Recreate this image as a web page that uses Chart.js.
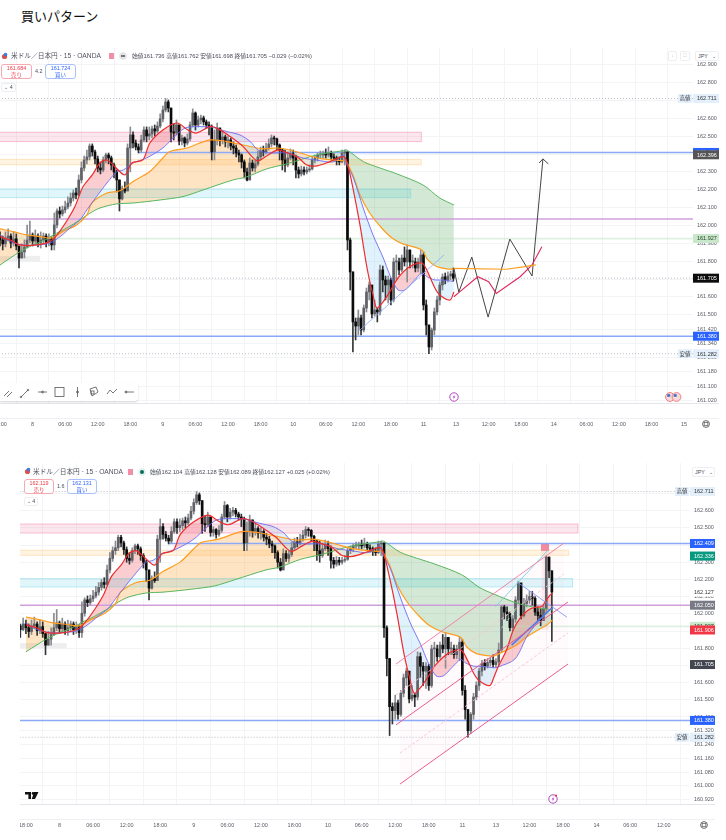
<!DOCTYPE html>
<html>
<head>
<meta charset="utf-8">
<title>買いパターン</title>
<script src="https://cdn.jsdelivr.net/npm/chart.js@4"></script>
<style>
  html, body { margin: 0; padding: 0; background: #fff; }
  body { position: relative; width: 726px; height: 840px; overflow: hidden; font-family: "Liberation Sans", "Noto Sans CJK JP", sans-serif; color: #4a4e59; }
  canvas { position: absolute; }
  .t { position: absolute; white-space: nowrap; font-size: 5.8px; line-height: 8px; z-index: 2; }
  .head { font-size: 6.7px; color: #50535e; }
  .pill { position: absolute; box-sizing: border-box; border: 1px solid; border-radius: 3px; height: 15px; text-align: center; font-size: 5.4px; line-height: 6.5px; background: #fff; z-index: 2; }
  .sell { border-color: #f7a9b1; color: #f23645; }
  .buy { border-color: #a9c0fb; color: #2962ff; }
  .tiny { position: absolute; box-sizing: border-box; border: 1px solid #eceef2; border-radius: 2px; background: #fff; font-size: 5.4px; line-height: 7px; text-align: center; z-index: 2; }
  svg { position: absolute; z-index: 2; overflow: visible; }
  #tools { position: absolute; left: 0; top: 383px; width: 138px; height: 18px; background: #fff; border-radius: 0 3px 3px 0; box-shadow: 0 1px 2px rgba(0,0,0,.18); z-index: 2; }
</style>
</head>
<body>

<div class="t" style="left:21px;top:9px;font-size:13px;line-height:16px;color:#111;">買いパターン</div>

<!-- upper chart header -->
<svg style="left:1px;top:52px" width="8" height="8"><circle cx="3.5" cy="4.5" r="2.6" fill="#d9534f"/><circle cx="4.5" cy="2.6" r="1.8" fill="#3b7dd8"/></svg>
<div class="t head" style="left:11px;top:52px">米ドル／日本円 · 15 · OANDA</div>
<svg style="left:109px;top:53px" width="6" height="6"><rect width="5" height="6" fill="#f08fa8"/></svg>
<svg style="left:119px;top:52px" width="8" height="8"><circle cx="4" cy="4" r="3.8" fill="#e3e4e8"/><rect x="2" y="3.4" width="4" height="1.2" fill="#333"/></svg>
<div class="t" style="left:132px;top:52px">始値161.736 高値161.762 安値161.698 終値161.705 −0.029 (−0.02%)</div>
<div class="pill sell" style="left:1px;top:64px;width:31px">161.684<br>売り</div>
<div class="t" style="left:35px;top:67px;font-size:5.4px">4.2</div>
<div class="pill buy" style="left:45px;top:64px;width:31px">161.724<br>買い</div>
<div class="tiny" style="left:1px;top:83px;width:15px;height:9px">⌄ 4</div>
<div class="tiny" style="left:668px;top:51px;width:9px;height:10px;color:#bbb">↓</div>
<div class="tiny" style="left:680px;top:51px;width:10px;height:10px;color:#bbb">□</div>
<div class="tiny" style="left:695px;top:51px;width:24px;height:10px;text-align:left;padding-left:2px;line-height:8px">JPY <span style="margin-left:3px">⌄</span></div>

<!-- drawing tools of the upper chart -->
<div id="tools">
  <svg width="138" height="18" fill="none" stroke="#555" stroke-width=".8">
    <path d="M4 13 L9 8 M7 14 L12 9"/>
    <path d="M21 14 L28 7"/><circle cx="21" cy="14" r=".8"/><circle cx="28" cy="7" r=".8"/>
    <path d="M38 9 L47 9"/><circle cx="42.5" cy="9" r="1"/>
    <rect x="55" y="4.5" width="9" height="9"/>
    <path d="M77.5 4 L77.5 14"/><circle cx="77.5" cy="9" r="1"/>
    <path d="M90 6 L96 4 L98 9 L92 13 Z"/><rect x="91" y="8" width="3" height="3"/>
    <path d="M107 11 L110 7 L113 10 L117 6"/>
    <path d="M125 9 L134 9"/><circle cx="126" cy="9" r="1"/>
  </svg>
</div>

<!-- event markers -->
<svg style="left:449px;top:392px" width="10" height="10"><circle cx="5" cy="5" r="4.2" fill="#fff" stroke="#ab47bc" stroke-width="1"/><path d="M5.6 2.6 L3.6 5.4 L5 5.4 L4.4 7.4 L6.4 4.6 L5 4.6 Z" fill="#ab47bc"/></svg>
<svg style="left:665px;top:392px" width="18" height="10"><circle cx="5" cy="5" r="4.4" fill="#f6dcdc" stroke="#e66" stroke-width=".8"/><rect x="2.2" y="2.2" width="3" height="2.6" fill="#3f6fc4"/><circle cx="11.5" cy="5" r="4.4" fill="#f6dcdc" stroke="#e66" stroke-width=".8"/><rect x="8.7" y="2.2" width="3" height="2.6" fill="#3f6fc4"/></svg>
<svg style="left:701px;top:419px" width="10" height="10"><circle cx="5" cy="5" r="3.4" fill="none" stroke="#555" stroke-width=".9"/><rect x="3.2" y="3.6" width="3.6" height="2.8" fill="none" stroke="#555" stroke-width=".7"/></svg>

<!-- lower chart header -->
<svg style="left:24px;top:467px" width="8" height="8"><circle cx="3.5" cy="4.5" r="2.6" fill="#d9534f"/><circle cx="4.5" cy="2.6" r="1.8" fill="#3b7dd8"/></svg>
<div class="t head" style="left:33px;top:468px">米ドル／日本円 · 15 · OANDA</div>
<svg style="left:128px;top:469px" width="6" height="6"><rect width="5" height="6" fill="#f08fa8"/></svg>
<svg style="left:138px;top:468px" width="8" height="8"><circle cx="4" cy="4" r="3.8" fill="#dff1ec"/><circle cx="4" cy="4" r="2" fill="#0b6e5a"/></svg>
<div class="t" style="left:150px;top:468px">始値162.104 高値162.128 安値162.089 終値162.127 +0.025 (+0.02%)</div>
<div class="pill sell" style="left:24px;top:479px;width:30px">162.119<br>売り</div>
<div class="t" style="left:57px;top:482px;font-size:5.4px">1.6</div>
<div class="pill buy" style="left:67px;top:479px;width:30px">162.131<br>買い</div>
<div class="tiny" style="left:24px;top:497px;width:14px;height:9px">⌄ 4</div>
<div class="tiny" style="left:692px;top:467px;width:23px;height:10px;text-align:left;padding-left:2px;line-height:8px">JPY <span style="margin-left:3px">⌄</span></div>

<svg style="left:25px;top:792px" width="14" height="7"><path d="M0 0 H6 V7 H3.4 V2.4 H0 Z M9 0 H13.5 L10 7 H6.8 Z" fill="#111"/><circle cx="8" cy="1.4" r="1.3" fill="#111"/></svg>
<svg style="left:548px;top:794px" width="11" height="10"><circle cx="5" cy="5" r="4.2" fill="#fff" stroke="#ab47bc" stroke-width="1"/><path d="M5.6 2.6 L3.6 5.4 L5 5.4 L4.4 7.4 L6.4 4.6 L5 4.6 Z" fill="#ab47bc"/><circle cx="8" cy="1.6" r="1.1" fill="#f23645"/></svg>
<svg style="left:699px;top:820px" width="10" height="10"><circle cx="5" cy="5" r="3.4" fill="none" stroke="#555" stroke-width=".9"/><rect x="3.2" y="3.6" width="3.6" height="2.8" fill="none" stroke="#555" stroke-width=".7"/></svg>

<canvas id="upperChart" width="719" height="385" style="left:0;top:48px"></canvas>
<canvas id="lowerChart" width="695" height="372" style="left:20px;top:463px"></canvas>

<script>
// time axis: hours of trading time counted from the "8" label, weekend removed
const timeTicks = [-6, 0, 6, 12, 18, 24, 30, 36, 42, 48, 54, 60, 66, 72, 78, 84, 90, 96, 102, 108, 114, 120];
const timeLabels = ['18:00', '8', '06:00', '12:00', '18:00', '9', '06:00', '12:00', '18:00', '10', '06:00', '12:00', '18:00', '11', '13', '12:00', '18:00', '14', '06:00', '12:00', '18:00', '15'];

const upperPriceTicks = [162.9, 162.8, 162.7, 162.6, 162.5, 162.4, 162.3, 162.2, 162.1, 162.0, 161.9, 161.8, 161.7, 161.6, 161.5, 161.42, 161.34, 161.26, 161.18, 161.1, 161.02];
const lowerPriceTicks = [162.7, 162.6, 162.5, 162.4, 162.3, 162.2, 162.1, 162.0, 161.9, 161.8, 161.7, 161.6, 161.5, 161.4, 161.32, 161.24, 161.16, 161.08, 161.0, 160.92];

// half hour candles, first one at t = -7.5; each opens at the previous close
const candleClose = [
  161.930, 161.908, 161.941, 161.919, 161.897, 161.930, 161.941, 161.902, 161.925, 161.885,
  161.818, 161.852, 161.880, 161.919, 161.947, 161.913, 161.941, 161.902, 161.919, 161.941,
  161.908, 161.925, 161.891, 162.003, 162.081, 162.065, 162.087, 162.104, 162.126, 162.154,
  162.182, 162.171, 162.255, 162.322, 162.367, 162.384, 162.445, 162.412, 162.373, 162.322,
  162.311, 162.367, 162.395, 162.378, 162.339, 162.300, 162.255, 162.149, 162.205, 162.193,
  162.434, 162.507, 162.462, 162.440, 162.423, 162.479, 162.535, 162.501, 162.513, 162.541,
  162.529, 162.557, 162.597, 162.647, 162.692, 162.658, 162.524, 162.518, 162.563, 162.473,
  162.490, 162.462, 162.485, 162.563, 162.630, 162.563, 162.591, 162.602, 162.580, 162.563,
  162.552, 162.412, 162.479, 162.546, 162.479, 162.496, 162.468, 162.479, 162.445, 162.434,
  162.406, 162.395, 162.356, 162.300, 162.255, 162.350, 162.322, 162.345, 162.384, 162.417,
  162.412, 162.434, 162.457, 162.490, 162.485, 162.451, 162.423, 162.367, 162.339, 162.378,
  162.401, 162.378, 162.311, 162.289, 162.311, 162.300, 162.311, 162.317, 162.367, 162.378,
  162.395, 162.395, 162.401, 162.395, 162.406, 162.384, 162.378, 162.361, 162.356, 162.406,
  162.412, 161.919, 161.740, 161.460, 161.437, 161.482, 161.415, 161.538, 161.628, 161.667,
  161.505, 161.527, 161.516, 161.751, 161.695, 161.667, 161.695, 161.583, 161.796, 161.796,
  161.751, 161.818, 161.796, 161.863, 161.796, 161.796, 161.762, 161.796, 161.835, 161.555,
  161.443, 161.320, 161.415, 161.516, 161.583, 161.667, 161.712, 161.695, 161.717, 161.729,
  161.705, 161.720, 161.790, 162.040, 162.010, 162.000, 161.920, 161.970, 162.080, 162.180,
  161.990, 162.060, 162.080, 162.100, 162.090, 162.010, 161.990, 161.960, 162.030, 162.330,
  162.250, 162.127
];
const candleHigh = [
  161.964, 161.941, 161.975, 161.964, 161.941, 161.964, 161.981, 161.953, 161.964, 161.953,
  161.885, 161.897, 161.919, 162.003, 162.025, 161.958, 161.975, 161.953, 161.964, 161.958,
  161.953, 161.953, 161.936, 162.070, 162.093, 162.104, 162.109, 162.137, 162.160, 162.182,
  162.199, 162.210, 162.283, 162.356, 162.389, 162.423, 162.457, 162.457, 162.423, 162.389,
  162.356, 162.384, 162.406, 162.406, 162.389, 162.350, 162.311, 162.255, 162.221, 162.244,
  162.457, 162.552, 162.524, 162.479, 162.457, 162.507, 162.552, 162.552, 162.552, 162.557,
  162.563, 162.580, 162.625, 162.669, 162.711, 162.703, 162.658, 162.569, 162.591, 162.563,
  162.507, 162.496, 162.513, 162.580, 162.653, 162.636, 162.613, 162.619, 162.613, 162.591,
  162.580, 162.563, 162.535, 162.574, 162.546, 162.529, 162.507, 162.501, 162.490, 162.468,
  162.451, 162.423, 162.401, 162.367, 162.322, 162.378, 162.367, 162.367, 162.417, 162.440,
  162.445, 162.462, 162.485, 162.507, 162.501, 162.490, 162.457, 162.429, 162.423, 162.412,
  162.429, 162.423, 162.395, 162.328, 162.333, 162.328, 162.328, 162.339, 162.384, 162.395,
  162.406, 162.417, 162.417, 162.429, 162.440, 162.417, 162.401, 162.389, 162.384, 162.423,
  162.423, 162.412, 161.930, 161.740, 161.482, 161.527, 161.499, 161.555, 161.650, 161.684,
  161.661, 161.583, 161.538, 161.779, 161.773, 161.717, 161.717, 161.706, 161.818, 161.835,
  161.818, 161.835, 161.880, 161.891, 161.863, 161.835, 161.818, 161.818, 161.863, 161.852,
  161.583, 161.443, 161.426, 161.538, 161.605, 161.684, 161.729, 161.734, 161.740, 161.745,
  161.762, 161.740, 161.830, 162.050, 162.050, 162.040, 162.010, 161.990, 162.100, 162.190,
  162.120, 162.090, 162.110, 162.130, 162.130, 162.100, 162.040, 162.030, 162.050, 162.336,
  162.330, 162.250
];
const candleLow = [
  161.885, 161.863, 161.902, 161.885, 161.863, 161.880, 161.913, 161.874, 161.885, 161.863,
  161.762, 161.818, 161.818, 161.874, 161.902, 161.885, 161.891, 161.880, 161.874, 161.897,
  161.880, 161.885, 161.863, 161.863, 161.986, 162.042, 162.053, 162.070, 162.093, 162.109,
  162.137, 162.149, 162.165, 162.238, 162.305, 162.345, 162.367, 162.389, 162.345, 162.300,
  162.289, 162.300, 162.350, 162.345, 162.311, 162.266, 162.188, 162.081, 162.143, 162.182,
  162.227, 162.300, 162.434, 162.423, 162.406, 162.412, 162.468, 162.468, 162.479, 162.490,
  162.501, 162.518, 162.546, 162.580, 162.636, 162.636, 162.468, 162.479, 162.507, 162.451,
  162.451, 162.440, 162.451, 162.473, 162.552, 162.535, 162.552, 162.569, 162.563, 162.546,
  162.507, 162.367, 162.367, 162.451, 162.445, 162.457, 162.440, 162.434, 162.423, 162.401,
  162.384, 162.356, 162.322, 162.266, 162.249, 162.255, 162.305, 162.300, 162.333, 162.367,
  162.389, 162.401, 162.423, 162.440, 162.451, 162.423, 162.367, 162.311, 162.300, 162.328,
  162.367, 162.339, 162.266, 162.266, 162.277, 162.283, 162.289, 162.300, 162.311, 162.350,
  162.361, 162.378, 162.378, 162.378, 162.384, 162.367, 162.361, 162.339, 162.339, 162.350,
  162.339, 161.863, 161.639, 161.292, 161.359, 161.387, 161.387, 161.404, 161.516, 161.583,
  161.482, 161.494, 161.460, 161.499, 161.628, 161.583, 161.566, 161.555, 161.572, 161.695,
  161.723, 161.740, 161.773, 161.684, 161.762, 161.762, 161.740, 161.740, 161.729, 161.527,
  161.387, 161.282, 161.303, 161.387, 161.499, 161.555, 161.639, 161.673, 161.684, 161.695,
  161.690, 161.690, 161.700, 161.780, 161.970, 161.960, 161.900, 161.900, 161.950, 162.060,
  161.970, 161.980, 162.040, 162.060, 162.050, 161.990, 161.960, 161.930, 161.960, 162.000,
  162.210, 161.840
];

// moving averages
const redTimes = [-6, -4.1, -2.3, 0.8, 3.2, 4.5, 6.4, 7.8, 9.3, 11, 12.4, 13.7, 15.2, 17, 18.3, 20.3, 21.6, 24, 26.6, 28.6, 30.2, 32.7, 34.2, 36.4, 38.8, 40.4, 41.5, 43.4, 45.2, 46.8, 48.7, 50.5, 52.4, 54.8, 57.2, 57.9, 59, 60.3, 61.6, 62.7, 63.4, 64.6, 65.8, 67.3, 69.5, 71.7, 72.6, 74.1, 75, 76.9, 77.6, 78.4, 79.9, 81.1, 82.3, 83.8, 85, 86.2, 86.8, 87.7, 88.1];
const redPrices = [161.936, 161.919, 161.891, 161.891, 161.91, 161.947, 162.031, 162.106, 162.218, 162.283, 162.35, 162.367, 162.328, 162.283, 162.35, 162.367, 162.462, 162.535, 162.574, 162.535, 162.518, 162.554, 162.541, 162.498, 162.442, 162.386, 162.362, 162.395, 162.423, 162.408, 162.386, 162.339, 162.334, 162.358, 162.386, 162.356, 162.21, 162.003, 161.762, 161.611, 161.538, 161.574, 161.63, 161.706, 161.77, 161.79, 161.751, 161.65, 161.611, 161.583, 161.628, 161.692, 161.79, 161.906, 161.974, 162.022, 162.038, 162.042, 162.07, 162.11, 162.12];
const blueTimes = [-6, -4.1, -1.7, 0.8, 3.2, 5.1, 6.9, 8.7, 10, 11.8, 13.7, 15.5, 16.7, 18.5, 21, 24, 25.9, 28.1, 30.9, 33.2, 35.8, 38.2, 40.1, 41.5, 43.7, 46.8, 49.8, 52.2, 55.4, 57.2, 57.6, 59.1, 60.9, 62.7, 64.6, 65.8, 67.3, 68.6, 70.1, 71.7, 72.6, 74.1, 75.6, 77.6, 78.4, 81.4, 83.7, 86.2, 88];
const bluePrices = [161.947, 161.91, 161.891, 161.891, 161.902, 161.938, 161.986, 162.031, 162.087, 162.162, 162.238, 162.3, 162.311, 162.35, 162.378, 162.434, 162.49, 162.546, 162.554, 162.549, 162.526, 162.507, 162.47, 162.423, 162.406, 162.406, 162.378, 162.367, 162.356, 162.395, 162.358, 162.266, 162.098, 161.947, 161.818, 161.723, 161.639, 161.639, 161.686, 161.734, 161.714, 161.695, 161.695, 161.686, 161.691, 161.737, 161.877, 161.976, 162.034];
const orangeTimes = [-6, -3.6, -1.1, 1.4, 3.5, 5.6, 8.1, 10, 10.9, 13.7, 16.1, 18.5, 21.6, 24, 25.3, 28.4, 32.7, 35.8, 38.8, 42.4, 45, 47.4, 50.5, 53.5, 57.2, 57.6, 59, 60.3, 62.1, 64.3, 66.2, 68.2, 71.7, 72.8, 74.4, 76.3, 77.6, 79.3, 81.7, 83.2, 85.5, 87.1, 88.1];
const orangePrices = [161.981, 161.966, 161.947, 161.938, 161.93, 161.966, 162.003, 162.059, 162.126, 162.182, 162.195, 162.246, 162.302, 162.378, 162.414, 162.434, 162.479, 162.47, 162.451, 162.429, 162.434, 162.423, 162.395, 162.373, 162.363, 162.367, 162.283, 162.171, 162.07, 161.986, 161.93, 161.897, 161.863, 161.807, 161.77, 161.757, 161.755, 161.78, 161.819, 161.859, 161.906, 161.935, 161.964];
const greenTimes = [-6, -4.1, -2.3, 0.1, 2.3, 3.8, 6.3, 8.7, 10.6, 12.4, 15.5, 18.5, 23.5, 27.7, 31.4, 36.9, 39.4, 43.1, 46.8, 52.3, 57.2, 57.9, 60.9, 64, 67.1, 71.9, 75, 77.6, 81.7, 84.6, 88.2];
const greenPrices = [161.779, 161.818, 161.854, 161.891, 161.919, 161.947, 161.986, 162.031, 162.07, 162.098, 162.121, 162.126, 162.143, 162.162, 162.199, 162.255, 162.272, 162.317, 162.345, 162.395, 162.419, 162.423, 162.358, 162.322, 162.289, 162.227, 162.154, 162.115, 162.063, 162.04, 162.022];

// drawn projection on the upper chart
const zigzagTimes = [77.6, 78.5, 80.9, 83.9, 87.9, 92, 94];
const zigzagPrices = [161.762, 161.627, 161.823, 161.487, 161.924, 161.717, 162.373];
const arrowTimes = [93.3, 94, 95];
const arrowPrices = [162.35, 162.373, 162.345];
const projectedRedTimes = [77.6, 78.6, 82, 84, 85.4, 89.8, 92, 93.8];
const projectedRedPrices = [161.601, 161.627, 161.713, 161.685, 161.62, 161.713, 161.779, 161.881];
const projectedOrangeTimes = [77.6, 87.3, 90.7, 92.7];
const projectedOrangePrices = [161.76, 161.755, 161.77, 161.78];
const trendTimes = [60.3, 75.8];
const trendPrices = [161.415, 161.835];

// channel drawn on the lower chart
const channelTopTimes = [60.14, 90.17];
const channelTopPrices = [161.708, 162.412];
const channelUpperMidTimes = [60.14, 90.17];
const channelUpperMidPrices = [161.528, 162.232];
const channelMidTimes = [60.14, 90.89];
const channelMidPrices = [161.354, 162.069];
const channelLowerMidTimes = [60.86, 90.89];
const channelLowerMidPrices = [161.19, 161.889];
const channelBottomTimes = [60.86, 90.89];
const channelBottomPrices = [161.01, 161.708];
const cyanTimes = [77.9, 87.3];
const cyanPrices = [162.04, 162.37];
const cyanLowTimes = [77.9, 81.9];
const cyanLowPrices = [161.87, 162.04];
const blueDownTimes = [82, 90.7];
const blueDownPrices = [162.18, 161.98];
const blueUpTimes = [80.8, 88];
const blueUpPrices = [161.818, 162.034];

// horizontal levels
const supportLevel = 161.38;
const resistanceLevel = 162.409;
const resistanceStart = 19.6;
const greenLevel = 161.927;
const upperPurpleLevel = 162.036;
const lowerPurpleLevel = 162.05;
const dayHigh = 162.711;
const dayLow = 161.282;
const lastPrice = 161.705;

// price boxes: start, end, low, high
const pinkBand = [162.47, 162.522];
const orangeBand = [162.34, 162.37];
const cyanBand = [162.156, 162.205];
const greyBand = [161.8, 161.83];
const upperBandEnds = { pink: 71.6, orange: 71.6, cyan: 69.65, grey: 1.4 };
const lowerBandEnds = { pink: 92.67, orange: 91, cyan: 91.7, grey: 1.3 };

// price labels sitting on the right axis
const upperTagPrices = [162.711, 162.409, 162.396, 161.927, 161.705, 161.38, 161.282];
const upperTagFills = ['#e3effa', '#2962ff', '#555555', '#c9e7cb', '#0d0d0d', '#2962ff', '#e3effa'];
const upperTagInks = ['#333', '#fff', '#fff', '#1c3d22', '#fff', '#fff', '#333'];
const upperTagNames = ['高値', '', '', '', '', '', '安値'];
const lowerTagPrices = [162.711, 162.409, 162.336, 162.127, 162.05, 161.927, 161.906, 161.705, 161.38, 161.282];
const lowerTagFills = ['#e3effa', '#2962ff', '#089981', '#ffffff', '#787b86', '#c9e7cb', '#f23645', '#434651', '#2962ff', '#e3effa'];
const lowerTagInks = ['#333', '#fff', '#fff', '#333', '#fff', '#1c3d22', '#fff', '#fff', '#fff', '#333'];
const lowerTagNames = ['高値', '', '', '', '', '', '', '', '', '安値'];

const labelFont = '5.5px "Liberation Sans", "Noto Sans CJK JP", sans-serif';
const gridColor = '#f3f4f6';

function zip(times, prices, until) {
  const pts = [];
  times.forEach((t, i) => { if (t <= until) pts.push({ x: t, y: prices[i] }); });
  return pts;
}

function line(times, prices, color, width, extra) {
  return Object.assign({
    type: 'line', data: zip(times, prices, 1e9), borderColor: color, borderWidth: width,
    pointRadius: 0, tension: 0, fill: false, order: 2
  }, extra || {});
}

function level(price, from, to, color, width, dash) {
  return line([from, to], [price, price], color, width, { borderDash: dash || [], order: 7 });
}

// candles are two floating bar sets: a thin wick and a wider body
function candleSets(until) {
  const wicks = [], bodies = [], bodyColors = [], wickColors = [];
  candleClose.forEach((c, i) => {
    const t = -7.5 + i * 0.5;
    if (t > until) return;
    const open = i ? candleClose[i - 1] : c;
    const color = c >= open ? '#5f6166' : '#0b0b0b';
    wicks.push({ x: t, y: [candleLow[i], candleHigh[i]] });
    bodies.push({ x: t, y: [open, c] });
    bodyColors.push(color);
    wickColors.push(c >= open ? '#8a8c90' : '#333538');
  });
  return [
    { type: 'bar', data: wicks, backgroundColor: wickColors, barThickness: 1, grouped: false, order: 5 },
    { type: 'bar', data: bodies, backgroundColor: bodyColors, barThickness: 2, grouped: false, minBarLength: 1, order: 4 }
  ];
}

function movingAverages(until) {
  const ma = (times, prices, color, width, fill) => ({
    type: 'line', data: zip(times, prices, until), borderColor: color, borderWidth: width,
    pointRadius: 0, tension: 0.3, fill: fill || false, order: 3
  });
  return [
    ma(redTimes, redPrices, '#f02b2b', 1.2, { target: 1, above: 'rgba(238,70,80,.27)', below: 'rgba(110,195,245,.22)' }),
    ma(blueTimes, bluePrices, '#6d6cf0', 0.9),
    ma(orangeTimes, orangePrices, '#ff9d1e', 1.2, { target: 3, above: 'rgba(255,165,60,.3)', below: 'rgba(70,165,80,.24)' }),
    ma(greenTimes, greenPrices, '#58b55c', 1)
  ];
}

// shaded boxes and the small signal flag, placed through the chart's scales
const priceBoxes = {
  id: 'priceBoxes',
  beforeDatasetsDraw(chart, args, opts) {
    const { ctx, chartArea: a, scales: { x, y } } = chart;
    ctx.save();
    ctx.beginPath();
    ctx.rect(a.left, a.top, a.right - a.left, a.bottom - a.top);
    ctx.clip();
    opts.boxes.forEach(b => {
      const l = x.getPixelForValue(b.from), r = x.getPixelForValue(b.to);
      const t = y.getPixelForValue(b.high), m = y.getPixelForValue(b.low);
      ctx.fillStyle = b.fill;
      ctx.fillRect(l, t, r - l, m - t);
      if (b.edge) {
        ctx.strokeStyle = b.edge;
        ctx.lineWidth = 1;
        ctx.strokeRect(l, t, r - l, m - t);
      }
    });
    ctx.restore();
  }
};

// axis edge lines and the coloured price labels on the right
const priceTags = {
  id: 'priceTags',
  afterDraw(chart, args, opts) {
    const { ctx, chartArea: a, scales: { y } } = chart;
    ctx.save();
    ctx.strokeStyle = '#e3e5ea';
    ctx.lineWidth = 1;
    ctx.beginPath();
    ctx.moveTo(0, a.bottom + 0.5);
    ctx.lineTo(chart.width, a.bottom + 0.5);
    ctx.stroke();
    ctx.strokeStyle = '#eff0f3';
    ctx.beginPath();
    ctx.moveTo(0, a.bottom + 15.5);
    ctx.lineTo(chart.width, a.bottom + 15.5);
    ctx.stroke();

    ctx.font = labelFont;
    ctx.textBaseline = 'middle';
    opts.prices.forEach((p, i) => {
      const py = y.getPixelForValue(p);
      ctx.fillStyle = opts.fills[i];
      ctx.fillRect(a.right, py - 4.5, chart.width - a.right, 9);
      ctx.fillStyle = opts.inks[i];
      ctx.textAlign = 'left';
      ctx.fillText(p.toFixed(3), a.right + 4, py + 0.3);
      if (opts.names[i]) {
        ctx.fillStyle = opts.fills[i];
        ctx.fillRect(a.right - 15, py - 4.5, 14, 9);
        ctx.fillStyle = opts.inks[i];
        ctx.textAlign = 'center';
        ctx.fillText(opts.names[i], a.right - 8, py + 0.3);
      }
    });
    ctx.restore();
  }
};

function buildChart(canvasId, cfg) {
  return new Chart(document.getElementById(canvasId), {
    type: 'line',
    data: { datasets: cfg.datasets },
    plugins: [priceBoxes, priceTags],
    options: {
      responsive: false,
      animation: false,
      events: [],
      layout: { autoPadding: false, padding: 0 },
      plugins: {
        legend: { display: false },
        tooltip: { enabled: false },
        title: { display: false },
        filler: { drawTime: 'beforeDatasetsDraw', propagate: false },
        priceBoxes: { boxes: cfg.boxes },
        priceTags: cfg.tags
      },
      scales: {
        x: {
          type: 'linear', min: cfg.timeMin, max: cfg.timeMax, offset: false,
          grid: { color: gridColor, drawTicks: false, lineWidth: 1 },
          border: { display: false },
          ticks: {
            autoSkip: false, maxRotation: 0, minRotation: 0, padding: 18,
            color: '#5a5d66', font: { size: 5.5, family: '"Liberation Sans", sans-serif' },
            callback: value => timeLabels[timeTicks.indexOf(value)]
          },
          afterBuildTicks(scale) {
            scale.ticks = timeTicks.filter(t => t >= scale.min && t <= scale.max).map(value => ({ value }));
          },
          afterFit(scale) {
            scale.height = cfg.axisHeight;
            scale.paddingLeft = 0;
            scale.paddingRight = 0;
          }
        },
        y: {
          type: 'linear', position: 'right', min: cfg.priceMin, max: cfg.priceMax,
          grid: { color: gridColor, drawTicks: false, lineWidth: 1 },
          border: { display: false },
          ticks: {
            autoSkip: false, padding: 4, color: '#5a5d66',
            font: { size: 5.5, family: '"Liberation Sans", sans-serif' },
            callback: value => value.toFixed(3)
          },
          afterBuildTicks(scale) {
            scale.ticks = cfg.priceTicks.map(value => ({ value }));
          },
          afterFit(scale) {
            scale.width = cfg.axisWidth;
            scale.paddingTop = 0;
            scale.paddingBottom = 0;
          }
        }
      }
    }
  });
}

function bandBoxes(ends) {
  return [
    { from: -20, to: ends.pink, low: pinkBand[0], high: pinkBand[1], fill: 'rgba(242,70,120,.13)', edge: 'rgba(240,120,155,.45)' },
    { from: -20, to: ends.orange, low: orangeBand[0], high: orangeBand[1], fill: 'rgba(255,160,30,.13)', edge: 'rgba(255,180,80,.3)' },
    { from: -20, to: ends.cyan, low: cyanBand[0], high: cyanBand[1], fill: 'rgba(0,185,215,.12)', edge: 'rgba(60,200,215,.3)' },
    { from: -20, to: ends.grey, low: greyBand[0], high: greyBand[1], fill: 'rgba(120,120,130,.13)' }
  ];
}

// upper chart: candles end at the 13 open, projection drawn to the right
const upperEnd = 77.6;
buildChart('upperChart', {
  timeMin: -6, timeMax: 121.64, priceMin: 161.006, priceMax: 162.994,
  priceTicks: upperPriceTicks, axisHeight: 30, axisWidth: 26,
  boxes: bandBoxes(upperBandEnds),
  tags: { prices: upperTagPrices, fills: upperTagFills, inks: upperTagInks, names: upperTagNames },
  datasets: [
    ...movingAverages(upperEnd),
    ...candleSets(upperEnd),
    level(supportLevel, -20, 130, '#8aa9f7', 1.5),
    level(resistanceLevel, resistanceStart, 130, '#8aa9f7', 1.5),
    level(upperPurpleLevel, -20, 130, '#cf9fdc', 1.6),
    level(greenLevel, -20, 130, 'rgba(185,222,187,.45)', 1.8),
    level(dayHigh, -20, 130, '#b9bcc4', 1, [1, 2]),
    level(dayLow, -20, 130, '#b9bcc4', 1, [1, 2]),
    level(lastPrice, -20, 130, '#b9bcc4', 1, [1, 2]),
    line(trendTimes, trendPrices, '#8aa9f7', 0.8),
    line(projectedOrangeTimes, projectedOrangePrices, '#ff9d1e', 1.2),
    line(projectedRedTimes, projectedRedPrices, '#e0285c', 1.1),
    line(zigzagTimes, zigzagPrices, '#444', 1),
    line(arrowTimes, arrowPrices, '#444', 1)
  ]
});

// lower chart: same history carried on through the rise, with the channel drawn in
const lowerEnd = 100;
const lowerFlag = [
  { from: 86.2, to: 87.5, low: 161.906, high: 162.4, fill: 'rgba(245,130,160,.13)' },
  { from: 86.05, to: 87.5, low: 162.366, high: 162.406, fill: '#f28aa0' }
];
buildChart('lowerChart', {
  timeMin: -7.06, timeMax: 112.69, priceMin: 160.894, priceMax: 162.877,
  priceTicks: lowerPriceTicks, axisHeight: 31, axisWidth: 25,
  boxes: bandBoxes(lowerBandEnds).concat(lowerFlag),
  tags: { prices: lowerTagPrices, fills: lowerTagFills, inks: lowerTagInks, names: lowerTagNames },
  datasets: [
    ...movingAverages(lowerEnd),
    line(channelTopTimes, channelTopPrices, '#ee7ba3', 0.9, { fill: { target: 6, above: 'rgba(245,130,170,.04)', below: 'rgba(245,130,170,.04)' } }),
    line(channelUpperMidTimes, channelUpperMidPrices, '#f7c3d5', 0.9, { borderDash: [3, 2] }),
    line(channelMidTimes, channelMidPrices, '#ea5d8e', 1, { fill: { target: 8, above: 'rgba(245,130,170,.04)', below: 'rgba(245,130,170,.04)' } }),
    line(channelLowerMidTimes, channelLowerMidPrices, '#f7c3d5', 0.9, { borderDash: [3, 2] }),
    line(channelBottomTimes, channelBottomPrices, '#ea5d8e', 1),
    ...candleSets(lowerEnd),
    level(supportLevel, -20, 130, '#8aa9f7', 1.5),
    level(resistanceLevel, resistanceStart, 130, '#8aa9f7', 1.5),
    level(lowerPurpleLevel, -20, 130, '#cf9fdc', 1.6),
    level(greenLevel, -20, 130, 'rgba(185,222,187,.45)', 1.8),
    level(dayHigh, -20, 130, '#b9bcc4', 1, [1, 2]),
    level(dayLow, -20, 130, '#b9bcc4', 1, [1, 2]),
    line(cyanTimes, cyanPrices, '#6fd3e0', 0.9),
    line(cyanLowTimes, cyanLowPrices, '#a8e4ea', 0.9, { borderDash: [3, 2] }),
    line(blueDownTimes, blueDownPrices, '#7f9df5', 0.9),
    line(blueUpTimes, blueUpPrices, '#5577ee', 1.5)
  ]
});
</script>
</body>
</html>
